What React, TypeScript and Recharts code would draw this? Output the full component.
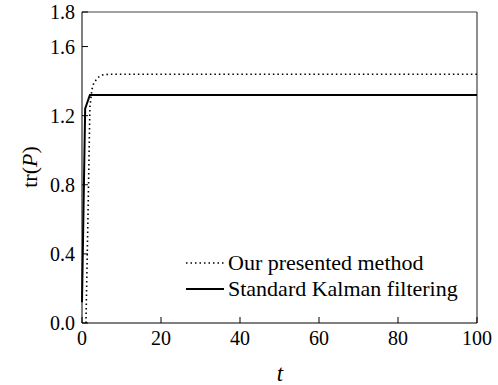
import React from "react";
import { LineChart, Line, XAxis, YAxis, ReferenceLine } from "recharts";

// standard Kalman filtering
const tKalman = [0, 0.8, 2, 10, 50, 100];
const trKalman = [0.12, 1.24, 1.32, 1.32, 1.32, 1.32];

// our presented method
const tOurs = [1, 1.5, 2, 2.5, 3, 4, 5, 7, 10, 50, 100];
const trOurs = [0, 0.6, 1.25, 1.35, 1.39, 1.42, 1.435, 1.44, 1.44, 1.44, 1.44];

const xTicks = [0, 20, 40, 60, 80, 100];
const yTicks = [0, 0.4, 0.8, 1.2, 1.6, 1.8];

const kalmanData = tKalman.map((t, i) => ({ t, v: trKalman[i] }));
const oursData = tOurs.map((t, i) => ({ t, v: trOurs[i] }));

const font = "'Liberation Serif', 'DejaVu Serif', serif";

const YLabel = () => (
  <text
    x={0}
    y={0}
    transform="translate(37,167) rotate(-90)"
    textAnchor="middle"
    fontFamily={font}
    fontSize={22}
    fill="#000"
  >
    tr(<tspan fontStyle="italic">P</tspan>)
  </text>
);

const XLabel = () => (
  <text x={280} y={381} textAnchor="middle" fontFamily={font} fontSize={23} fontStyle="italic" fill="#000">
    t
  </text>
);

function LegendBox() {
  const rows = [
    { name: "Our presented method", dash: "1.5 3" },
    { name: "Standard Kalman filtering", dash: undefined },
  ];
  return (
    <div
      style={{
        position: "absolute",
        left: 186,
        top: 250,
        fontFamily: font,
        fontSize: 22,
        color: "#000",
        lineHeight: "26px",
      }}
    >
      {rows.map((r) => (
        <div key={r.name} style={{ display: "flex", alignItems: "center", whiteSpace: "nowrap" }}>
          <svg width={38} height={10} style={{ marginRight: 4 }}>
            <line x1={0} y1={5} x2={38} y2={5} stroke="#000" strokeWidth={r.dash ? 1.5 : 2} strokeDasharray={r.dash} />
          </svg>
          <span>{r.name}</span>
        </div>
      ))}
    </div>
  );
}

export default function App() {
  return (
    <div style={{ position: "absolute", left: 0, top: 0, width: 498, height: 385, background: "#fff" }}>
      <LineChart width={498} height={385} margin={{ top: 12, right: 21, bottom: 32, left: 0 }}>
        <XAxis
          dataKey="t"
          type="number"
          domain={[0, 100]}
          ticks={xTicks}
          interval={0}
          allowDuplicatedCategory={false}
          stroke="#000"
          tick={{ fill: "#000", fontSize: 20, fontFamily: font }}
          tickSize={-6}
          tickMargin={14}
          height={30}
          label={<XLabel />}
        />
        <YAxis
          type="number"
          domain={[0, 1.8]}
          ticks={yTicks}
          interval={0}
          width={82}
          stroke="#000"
          tick={{ fill: "#000", fontSize: 20, fontFamily: font }}
          tickFormatter={(v) => v.toFixed(1)}
          tickSize={-6}
          tickMargin={13}
          label={<YLabel />}
        />
        <ReferenceLine y={1.8} stroke="#444" strokeWidth={1.2} />
        <ReferenceLine x={100} stroke="#444" strokeWidth={1.2} />
        <Line
          data={oursData}
          dataKey="v"
          stroke="#000"
          strokeWidth={1.6}
          strokeDasharray="1.5 3"
          dot={false}
          isAnimationActive={false}
          name="Our presented method"
        />
        <Line
          data={kalmanData}
          dataKey="v"
          stroke="#000"
          strokeWidth={2}
          dot={false}
          isAnimationActive={false}
          name="Standard Kalman filtering"
        />
      </LineChart>
      <LegendBox />
    </div>
  );
}
